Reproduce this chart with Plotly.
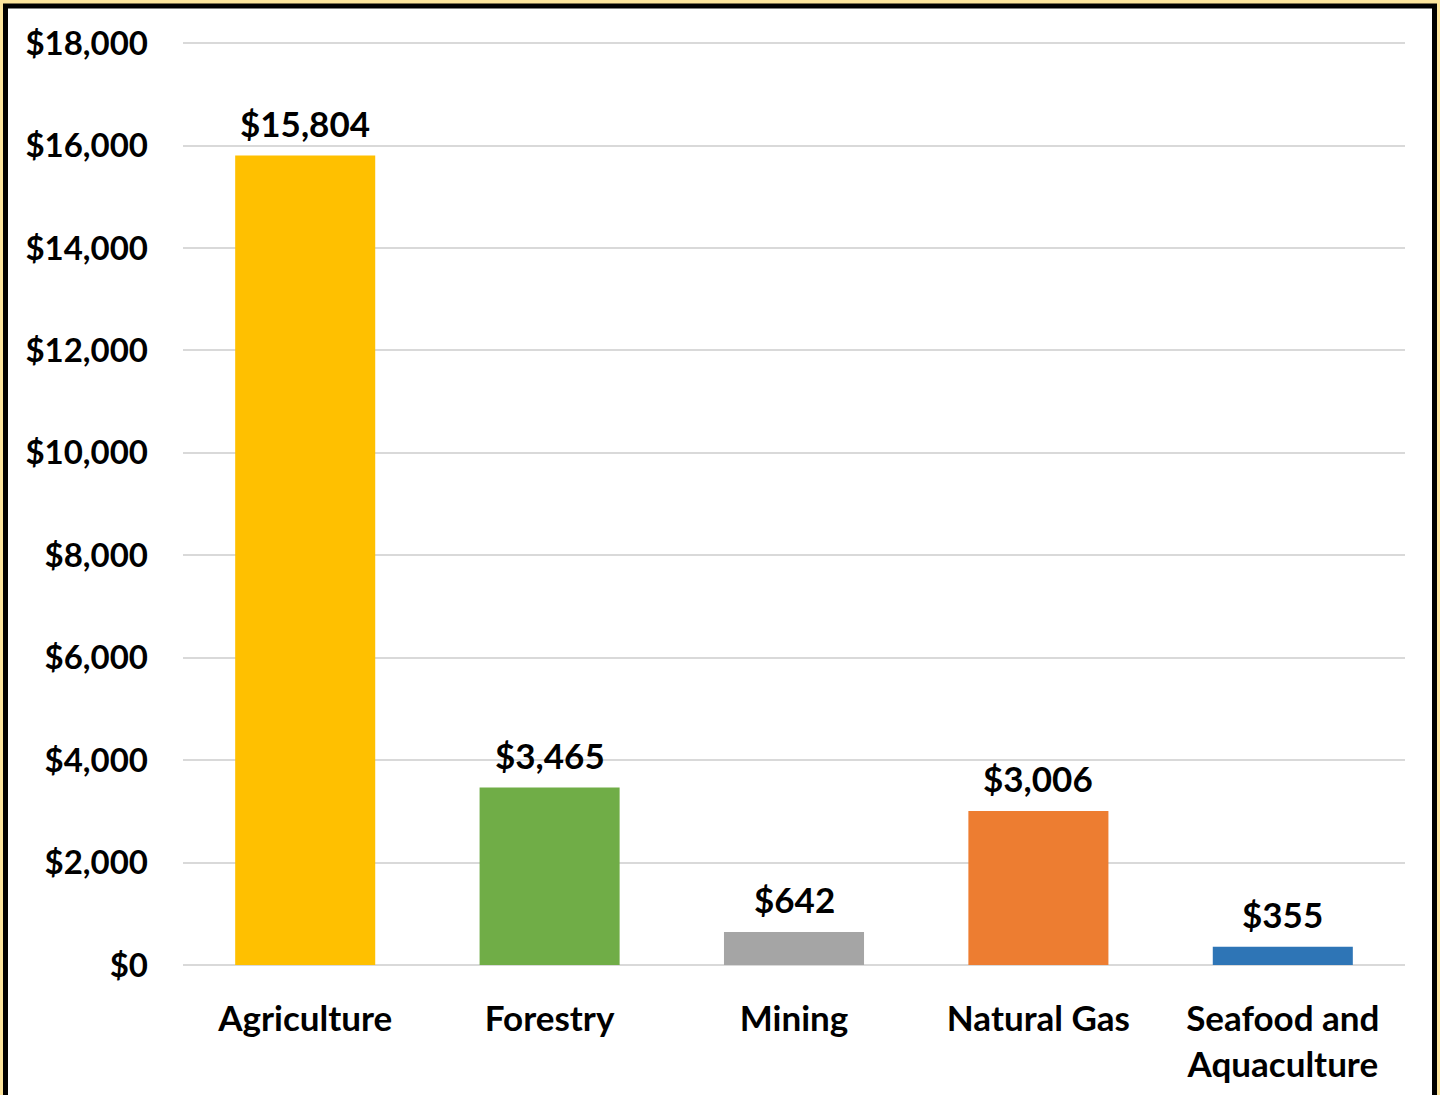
import plotly.graph_objects as go

categories = ["Agriculture", "Forestry", "Mining", "Natural Gas", "Seafood and<br>Aquaculture"]
values = [15804, 3465, 642, 3006, 355]
colors = ["#FFC000", "#70AD47", "#A5A5A5", "#ED7D31", "#2E75B6"]

W, H = 1440, 1095
ml, mr, mt, mb = 183, 35, 38, 130
pw, ph = W - ml - mr, H - mt - mb
ymax = 18100

def px_x(x):
    return (x - ml) / pw

def px_y(y):
    return (H - mb - y) / ph

font_family = "Lato, 'Open Sans', sans-serif"

fig = go.Figure(go.Bar(
    x=categories, y=values,
    marker=dict(color=colors, line=dict(width=0)),
    hovertemplate="%{x}: $%{y:,}<extra></extra>",
))

for c, v in zip(categories, values):
    fig.add_annotation(
        x=c, y=v, text=f"${v:,}", showarrow=False,
        xanchor="center", yanchor="bottom", yshift=10,
        font=dict(family=font_family, size=35, color="#000000", weight="bold"),
    )

fig.update_layout(
    width=W, height=H,
    margin=dict(l=ml, r=mr, t=mt, b=mb, pad=0),
    paper_bgcolor="#FCE49C",
    plot_bgcolor="rgba(0,0,0,0)",
    bargap=0.427,
    showlegend=False,
    font=dict(family=font_family, size=34, color="#000000", weight="bold"),
    shapes=[dict(
        type="rect", xref="paper", yref="paper", layer="below",
        x0=px_x(5.5), x1=px_x(1434.5), y0=px_y(1110), y1=px_y(6),
        line=dict(color="#000000", width=5), fillcolor="#FFFFFF",
    )],
)
fig.update_yaxes(
    range=[0, ymax], dtick=2000, tickprefix="$", tickformat=",",
    showgrid=True, gridcolor="#D9D9D9", gridwidth=2,
    zeroline=True, zerolinecolor="#D9D9D9", zerolinewidth=2,
    showline=False, ticks="", ticklabelstandoff=34,
    tickfont=dict(family=font_family, size=33, color="#000000", weight="bold"),
)
fig.update_xaxes(
    showline=False, ticks="", ticklabelstandoff=30,
    tickfont=dict(family=font_family, size=35, color="#000000", weight="bold"),
)

fig.write_html(
    "out.html",
    config={"displayModeBar": False},
    post_script="document.body.style.margin='0';document.body.style.padding='0';document.body.style.overflow='hidden';",
)
